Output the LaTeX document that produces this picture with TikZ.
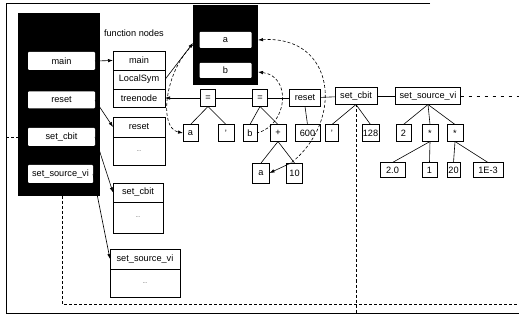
\documentclass[tikz,border=0pt]{standalone}
\usepackage{fontspec}
\setmainfont{Liberation Sans}
\usetikzlibrary{arrows.meta}
\begin{document}
\begin{tikzpicture}[x=1pt,y=-1pt,
  every node/.style={font=\fontsize{9.2}{11}\selectfont, inner sep=0pt, outer sep=0pt},
  link/.style={line width=0.6pt},
  ref/.style={line width=0.6pt, dash pattern=on 3pt off 2pt},
  arr/.style={-{Latex[length=5pt,width=3.5pt]}},
  rarr/.style={{Latex[length=5pt,width=3.5pt]}-},
  symbg/.style={fill=black},
  symitem/.style={fill=white, rounded corners=1pt},
  fcell/.style={draw, line width=0.6pt},
  tnode/.style={draw, line width=0.6pt, minimum height=17}]
\useasboundingbox (0,0) rectangle (519,320);

% frame
\draw[link] (430,3) -- (6,3) -- (6,313) -- (519,313);

% symbol table of functions
\node[symbg, minimum width=82, minimum height=183, anchor=north west] (syms) at (18,13) {};
\node[symitem, minimum width=67, minimum height=18] (smain) at (61.5,61) {main};
\node[symitem, minimum width=67, minimum height=17] (sreset) at (61.5,100) {reset};
\node[symitem, minimum width=67, minimum height=18] (scbit) at (61.5,137) {set\_cbit};
\node[symitem, minimum width=65, minimum height=18] (ssrc) at (60.5,174) {set\_source\_vi};

% function nodes
\node[anchor=west] (fnlabel) at (104,33) {function nodes};
\node[fcell, minimum width=52, minimum height=19] (fmain) at (139,60.5) {main};
\node[fcell, minimum width=52, minimum height=19] (floc) at (139,79.5) {LocalSym};
\node[fcell, minimum width=52, minimum height=18] (ftree) at (139,98) {treenode};
\node[fcell, minimum width=52, minimum height=20] (freset) at (139,127) {reset};
\node[fcell, minimum width=52, minimum height=28] (fresetb) at (139,151) {\tiny ...};
\node[fcell, minimum width=50, minimum height=19] (fcbit) at (138,192.5) {set\_cbit};
\node[fcell, minimum width=50, minimum height=31] (fcbitb) at (138,217.5) {\tiny ...};
\node[fcell, minimum width=70, minimum height=20] (fsrc) at (145,259) {set\_source\_vi};
\node[fcell, minimum width=70, minimum height=28] (fsrcb) at (145,283) {\tiny ...};

% local symbols of main
\node[symbg, minimum width=65, minimum height=80, anchor=north west] (vars) at (193,5) {};
\node[symitem, minimum width=52, minimum height=16] (va) at (225.5,40) {a};
\node[symitem, minimum width=52, minimum height=15] (vb) at (225.5,70.5) {b};

% statement list
\node[tnode, minimum width=15] (eq1) at (208,98) {=};
\node[tnode, minimum width=15] (eq2) at (260,98) {=};
\node[tnode, minimum width=31] (treset) at (305,98) {reset};
\node[tnode, minimum width=42] (tcbit) at (356,96) {set\_cbit};
\node[tnode, minimum width=65] (tsrc) at (428,96) {set\_source\_vi};

% operands
\node[tnode, minimum width=15] (la) at (190.5,133) {a};
\node[tnode, minimum width=16] (lq1) at (226,133) {'};
\node[tnode, minimum width=14] (lb) at (250,133) {b};
\node[tnode, minimum width=16] (lplus) at (278,133) {+};
\node[tnode, minimum width=25] (l600) at (307.5,133) {600};
\node[tnode, minimum width=13] (lq2) at (332,133) {'};
\node[tnode, minimum width=17] (l128) at (370.5,133) {128};
\node[tnode, minimum width=15] (l2) at (403.5,133) {2};
\node[tnode, minimum width=16] (lst1) at (430,133) {*};
\node[tnode, minimum width=16] (lst2) at (455,133) {*};

\node[tnode, minimum width=25, minimum height=15] (m20) at (392.5,170) {2.0};
\node[tnode, minimum width=15, minimum height=15] (m1) at (429.5,170) {1};
\node[tnode, minimum width=13, minimum height=15] (m20b) at (453.5,170) {20};
\node[tnode, minimum width=30, minimum height=15] (m1e3) at (488,170) {1E-3};
\node[tnode, minimum width=17, minimum height=20] (pa) at (261,173) {a};
\node[tnode, minimum width=16, minimum height=20] (p10) at (294.5,173) {10};

% function table links
\draw[link,arr] (smain.east) -- (fmain.west);
\draw[link,arr] (sreset.east) -- (freset.west);
\draw[link,arr] (scbit.east) -- (fcbit.west);
\draw[link,arr] (ssrc.east) -- (fsrc.west);
\coordinate (varsin) at (193,43);
\draw[link,arr] (floc.east) -- (varsin);

% statement chain
\draw[link,arr] (eq1.west) -- (ftree.east);
\draw[link] (eq1) -- (eq2);
\draw[link] (eq2) -- (treset);
\draw[link] (treset) -- (tcbit);
\draw[link] (tcbit) -- (tsrc);
\coordinate (chainend) at (519,96);
\draw[link, dash pattern=on 3pt off 5pt] (tsrc.east) -- (chainend);

% tree edges
\foreach \p/\c in {eq1/la, eq1/lq1, eq2/lb, eq2/lplus, treset/l600,
                   tcbit/lq2, tcbit/l128, tsrc/l2, tsrc/lst1, tsrc/lst2,
                   lst1/m20, lst1/m1, lst2/m20b, lst2/m1e3, lplus/pa, lplus/p10}
  \draw[link] (\p.south) -- (\c.north);

% references to symbols
\coordinate (aout) at (258,40);
\coordinate (bout) at (258,72);
\coordinate (vleft) at (193,45);
\coordinate (aturn) at (291,163);
\draw[ref, rarr] (aout) .. controls (335,35) and (345,120) .. (aturn);
\draw[link,arr] (aturn) -- (pa.east);
\draw[ref, rarr] (bout) .. controls (292,76) and (288,125) .. (lb.east);
\draw[ref, arr] (vleft) .. controls (165,70) and (158,128) .. (la.west);

% call references
\coordinate (symsbot) at (62,196);
\coordinate (bl) at (62,304);
\coordinate (br) at (519,304);
\draw[ref] (symsbot) -- (bl) -- (br);
\coordinate (cbitdown) at (356,313);
\draw[ref] (tcbit.south) -- (cbitdown);
\coordinate (leftin) at (6,137);
\coordinate (leftto) at (18,137);
\draw[ref] (leftin) -- (leftto);
\end{tikzpicture}
\end{document}
